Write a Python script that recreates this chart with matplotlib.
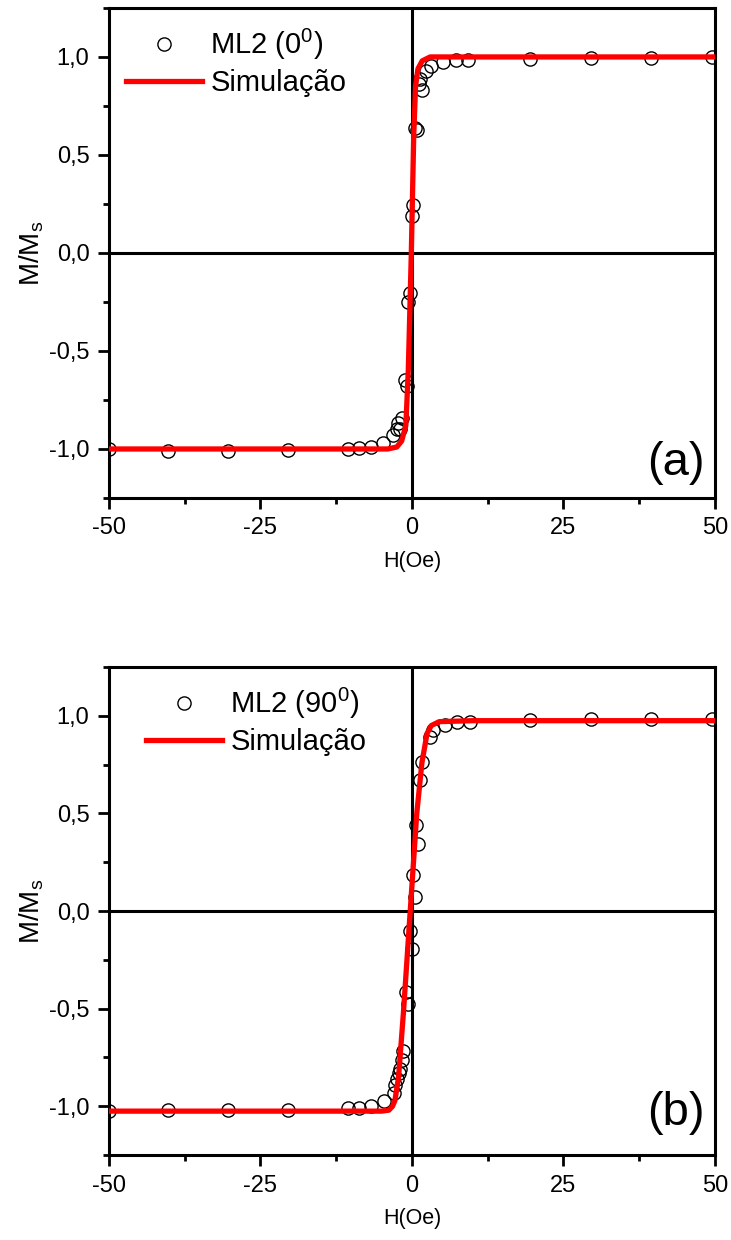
import matplotlib
matplotlib.use('Agg')
import matplotlib.pyplot as plt
from matplotlib.ticker import MultipleLocator, FuncFormatter

plt.rcParams['font.family'] = ['Liberation Sans', 'DejaVu Sans']
plt.rcParams['mathtext.fontset'] = 'custom'
plt.rcParams['mathtext.rm'] = 'Liberation Sans'

# panel (a): ML2 at 0 degrees
h_a = [-50, -40.3, -30.3, -20.5, -10.5, -8.7, -6.7, -4.7, -3.1, -2.5, -2.3, -2.0, -1.7,
       -1.15, -0.8, -0.6, -0.3, 0.0, 0.2, 0.5, 0.8, 1.2, 1.3, 1.6, 2.4, 3.2, 5.2, 7.3, 9.3,
       19.5, 29.5, 39.5, 49.5]
m_a = [-1.0, -1.01, -1.01, -1.005, -1.0, -0.995, -0.99, -0.97, -0.93, -0.9, -0.87, -0.9, -0.84,
       -0.65, -0.68, -0.25, -0.205, 0.19, 0.245, 0.64, 0.625, 0.86, 0.89, 0.83, 0.93, 0.955, 0.973,
       0.985, 0.985, 0.99, 0.995, 0.995, 1.0]
sim_h_a = [-50, -10, -4, -2.5, -1.7, -1.0, -0.6, -0.1, 0.3, 0.6, 1.0, 1.7, 3, 10, 50]
sim_m_a = [-1.0, -1.0, -1.0, -0.99, -0.96, -0.88, -0.6, 0.0, 0.6, 0.85, 0.94, 0.98, 1.0, 1.0, 1.0]

# panel (b): ML2 at 90 degrees
h_b = [-50, -40.3, -30.3, -20.5, -10.5, -8.7, -6.7, -4.6, -3.0, -2.8, -2.5, -2.2, -1.9, -1.7,
       -1.43, -1.0, -0.6, -0.33, -0.05, 0.1, 0.5, 0.65, 1.05, 1.3, 1.6, 3.0, 3.5, 5.45, 7.4, 9.6,
       19.5, 29.5, 39.5, 49.5]
m_b = [-1.025, -1.02, -1.02, -1.02, -1.01, -1.01, -1.0, -0.975, -0.93, -0.89, -0.86, -0.83, -0.81,
       -0.765, -0.715, -0.415, -0.475, -0.1, -0.195, 0.183, 0.072, 0.44, 0.345, 0.67, 0.763, 0.89,
       0.927, 0.952, 0.969, 0.969, 0.98, 0.985, 0.985, 0.985]
sim_h_b = [-50, -5, -3.8, -3.2, -2.8, -2.2, -1.4, -0.3, 0.8, 1.65, 2.5, 3.2, 4.5, 10, 50]
sim_m_b = [-1.025, -1.025, -1.02, -1.0, -0.97, -0.85, -0.52, -0.01, 0.5, 0.76, 0.91, 0.95, 0.97,
           0.975, 0.975]

xticks = [-50, -25, 0, 25, 50]
yticks = [-1.0, -0.5, 0.0, 0.5, 1.0]

fig = plt.figure(figsize=(7.31, 12.4), dpi=100)


def panel(rect, h, m, sh, sm, label, tag, leg_xy, tag_y):
    ax = fig.add_axes(rect)
    ax.axhline(0, color='k', lw=2.2, zorder=1)
    ax.axvline(0, color='k', lw=2.2, zorder=1)
    ax.plot(h, m, 'o', mfc='none', mec='k', ms=9.5, mew=1.0, zorder=2, label=label)
    ax.plot(sh, sm, '-', color='#ff0000', lw=3.8, zorder=3, label='Simulação')
    ax.set_xlim(-50, 50)
    ax.set_ylim(-1.25, 1.25)
    ax.set_xticks(xticks)
    ax.set_yticks(yticks)
    ax.xaxis.set_minor_locator(MultipleLocator(12.5))
    ax.yaxis.set_minor_locator(MultipleLocator(0.25))
    ax.yaxis.set_major_formatter(FuncFormatter(lambda v, p: f'{v:.1f}'.replace('.', ',')))
    ax.xaxis.set_major_formatter(FuncFormatter(lambda v, p: f'{v:.0f}'))
    ax.tick_params(which='both', direction='out', top=False, right=False, width=2.0)
    ax.tick_params(which='major', length=8, labelsize=17, pad=6)
    ax.tick_params(which='minor', length=4.5)
    for s in ax.spines.values():
        s.set_linewidth(2.2)
    ax.set_xlabel('H(Oe)', fontsize=15.5, labelpad=8)
    ax.set_ylabel(r'M/M$_\mathregular{s}$', fontsize=20, labelpad=2)
    ax.legend(loc='upper left', bbox_to_anchor=leg_xy, frameon=False, fontsize=21,
              numpoints=1, handlelength=2.6, handletextpad=0.3, labelspacing=0.25,
              borderpad=0, borderaxespad=0)
    ax.text(0.983, tag_y, tag, transform=ax.transAxes, ha='right', va='center', fontsize=34)
    return ax


panel([0.149, 0.5984, 0.829, 0.3952], h_a, m_a, sim_h_a, sim_m_a,
      r'ML2 (0$^\mathregular{0}$)', '(a)', (0.028, 0.962), 0.071)
panel([0.149, 0.0685, 0.829, 0.3936], h_b, m_b, sim_h_b, sim_m_b,
      r'ML2 (90$^\mathregular{0}$)', '(b)', (0.061, 0.962), 0.086)

fig.savefig('out.png', dpi=100)
